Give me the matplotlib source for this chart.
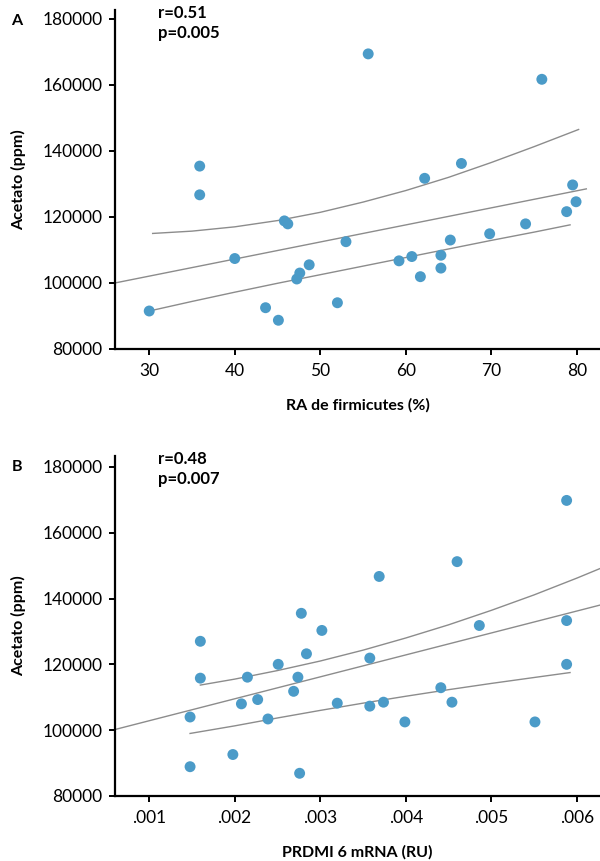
import matplotlib
matplotlib.use("Agg")
import matplotlib.pyplot as plt
from matplotlib.ticker import FuncFormatter

plt.rcParams['font.family'] = ['Lato', 'DejaVu Sans']

# Panel A: RA de firmicutes (%) vs acetato
firm_x = [30.0, 40.0, 35.9, 35.9, 43.6, 45.1, 45.8, 46.2, 47.25, 47.6,
          48.7, 52.0, 53.0, 59.2, 60.7, 61.7, 64.1, 64.1, 65.2, 69.8,
          74.0, 78.8, 79.9, 79.5, 55.6, 75.9, 62.2, 66.5]
firm_y = [91500, 107400, 135400, 126700, 92500, 88700, 118800, 117900, 101200, 103000,
          105500, 94000, 112500, 106700, 108000, 101900, 108400, 104500, 113000, 114900,
          117900, 121600, 124600, 129700, 169400, 161700, 131700, 136200]

# fitted line and bands
firm_fit_x = [26.0, 81.1]
firm_fit_y = [100000, 128500]
firm_up_x = [30.4, 35, 40, 45, 50, 55, 60, 65, 70, 75, 80.2]
firm_up_y = [115000, 115700, 117000, 118900, 121400, 124500, 128000, 132000, 136500, 141300, 146500]
firm_lo_x = [30.0, 35, 40, 45, 50, 55, 60, 65, 70, 75, 79.2]
firm_lo_y = [91500, 94400, 97200, 99900, 102500, 105100, 107700, 110300, 112900, 115400, 117600]

# Panel B: PRDMI 6 mRNA (RU) vs acetato
prd_x = [0.00160, 0.00160, 0.00148, 0.00148, 0.00198, 0.00208, 0.00215, 0.00227,
         0.00239, 0.00251, 0.00269, 0.00274, 0.00276, 0.00302, 0.00284, 0.00320,
         0.00358, 0.00358, 0.00374, 0.00399, 0.00441, 0.00454, 0.00551, 0.00588,
         0.00588, 0.00460, 0.00369, 0.00486, 0.00588, 0.00278]
prd_y = [127000, 115800, 104000, 88900, 92600, 108000, 116100, 109300,
         103400, 120000, 111800, 116100, 86900, 130300, 123200, 108200,
         121900, 107300, 108500, 102500, 112900, 108500, 102500, 120000,
         169800, 151200, 146700, 131800, 133300, 135500]

prd_fit_x = [0.000603, 0.00627]
prd_fit_y = [100200, 138000]
prd_up_x = [0.0016, 0.002, 0.0025, 0.003, 0.0035, 0.004, 0.0045, 0.005, 0.0055, 0.006, 0.00627]
prd_up_y = [113700, 115500, 118100, 121000, 124300, 128000, 132000, 136400, 141100, 146200, 149100]
prd_lo_x = [0.00148, 0.002, 0.0025, 0.003, 0.0035, 0.004, 0.0045, 0.005, 0.0055, 0.00592]
prd_lo_y = [99000, 101300, 103700, 106000, 108200, 110300, 112300, 114200, 116000, 117500]

dot_color = "#4b9bc8"
line_color = "#8c8c8c"

fig = plt.figure(figsize=(6, 8.61), dpi=100)
axA = fig.add_axes([0.1917, 0.5947, 0.8083, 0.3937])
axB = fig.add_axes([0.1917, 0.0755, 0.8083, 0.3949])


def style(ax):
    for s in ["top", "right"]:
        ax.spines[s].set_visible(False)
    for s in ["left", "bottom"]:
        ax.spines[s].set_linewidth(1.6)
    ax.tick_params(width=1.4, length=4, labelsize=12.5, color="black")
    ax.tick_params(axis="x", pad=6)
    ax.tick_params(axis="y", pad=5)


# panel A
axA.plot(firm_fit_x, firm_fit_y, color=line_color, lw=1.0, zorder=1)
axA.plot(firm_up_x, firm_up_y, color=line_color, lw=1.0, zorder=1)
axA.plot(firm_lo_x, firm_lo_y, color=line_color, lw=1.0, zorder=1)
axA.scatter(firm_x, firm_y, s=62, color=dot_color, edgecolors="none", zorder=2, clip_on=False)
axA.set_xlim(26, 82.7)
axA.set_ylim(80000, 182700)
axA.set_xticks([30, 40, 50, 60, 70, 80])
axA.set_yticks([80000, 100000, 120000, 140000, 160000, 180000])
style(axA)
axA.set_xlabel("RA de firmicutes (%)", fontsize=11.5, fontweight="bold", labelpad=14)
axA.set_ylabel("Acetato (ppm)", fontsize=11.5, fontweight="bold", labelpad=12)

# panel B
axB.plot(prd_fit_x, prd_fit_y, color=line_color, lw=1.0, zorder=1)
axB.plot(prd_up_x, prd_up_y, color=line_color, lw=1.0, zorder=1)
axB.plot(prd_lo_x, prd_lo_y, color=line_color, lw=1.0, zorder=1)
axB.scatter(prd_x, prd_y, s=62, color=dot_color, edgecolors="none", zorder=2, clip_on=False)
axB.set_xlim(0.000603, 0.00627)
axB.set_ylim(80000, 183300)
axB.set_xticks([0.001, 0.002, 0.003, 0.004, 0.005, 0.006])
axB.set_yticks([80000, 100000, 120000, 140000, 160000, 180000])
axB.xaxis.set_major_formatter(FuncFormatter(lambda v, p: ("%.3f" % v).lstrip("0")))
style(axB)
axB.set_xlabel("PRDMI 6 mRNA (RU)", fontsize=11.5, fontweight="bold", labelpad=14)
axB.set_ylabel("Acetato (ppm)", fontsize=11.5, fontweight="bold", labelpad=12)

# annotations
fig.text(158 / 600, 1 - 5 / 861, "r=0.51\np=0.005", fontsize=12, fontweight="bold",
         va="top", ha="left", linespacing=1.3)
fig.text(158 / 600, 1 - 451 / 861, "r=0.48\np=0.007", fontsize=12, fontweight="bold",
         va="top", ha="left", linespacing=1.3)
fig.text(17 / 600, 1 - 21 / 861, "A", fontsize=11.5, fontweight="bold", va="center", ha="center")
fig.text(17 / 600, 1 - 467 / 861, "B", fontsize=11.5, fontweight="bold", va="center", ha="center")

fig.savefig("out.png", dpi=100)
